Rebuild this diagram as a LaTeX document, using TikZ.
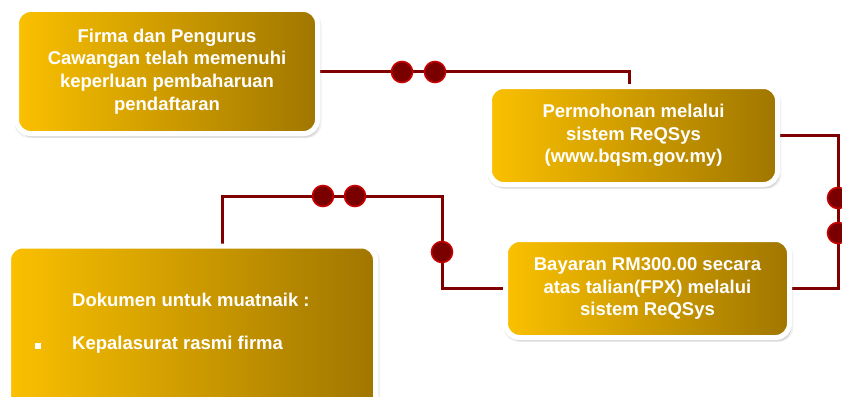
\documentclass[tikz,border=0pt]{standalone}
\usepackage{fontspec}
\setmainfont{Liberation Sans}
\usetikzlibrary{shadows,backgrounds}
\definecolor{goldL}{RGB}{250,192,0}
\definecolor{goldR}{RGB}{160,118,0}
\definecolor{lineRed}{RGB}{128,0,0}
\definecolor{dotFill}{RGB}{122,0,0}
\definecolor{dotRim}{RGB}{200,0,0}
\begin{document}
\begin{tikzpicture}[x=1pt,y=-1pt,
  gbox/.style={rounded corners=14pt, draw=white, line width=5pt,
    left color=goldL, right color=goldR,
    drop shadow={opacity=0.12, shadow xshift=1pt, shadow yshift=-3pt, shadow scale=1.02},
    drop shadow={opacity=0.2, shadow xshift=2pt, shadow yshift=-4pt},
    align=center, text=white, font=\bfseries\fontsize{18.5}{22.7}\selectfont,
    inner sep=0pt},
  wtext/.style={text=white, font=\bfseries\fontsize{18.5}{22.7}\selectfont, inner sep=0pt},
  conn/.style={draw=lineRed, line width=3pt},
  dot/.style={circle, fill=dotFill, draw=dotRim, line width=1.6pt, minimum size=21pt, inner sep=0pt}
]
\useasboundingbox (0,0) rectangle (842,396);
\clip (0,0) rectangle (842,396);

\node[gbox, minimum width=301pt, minimum height=124pt] (b1) at (167,71.5)
  {Firma dan Pengurus\\Cawangan telah memenuhi\\keperluan pembaharuan\\pendaftaran};
\node[gbox, minimum width=288pt, minimum height=98pt] (b2) at (633.5,135.5)
  {Permohonan melalui\\sistem ReQSys\\(www.bqsm.gov.my)};
\node[gbox, minimum width=284pt, minimum height=98pt] (b3) at (647.5,288.5)
  {Bayaran RM300.00 secara\\atas talian(FPX) melalui\\sistem ReQSys};
\node[gbox, minimum width=367pt, minimum height=168pt] (b4) at (192,330) {};
\node[wtext, anchor=west] (t4a) at (72,300) {Dokumen untuk muatnaik :};
\node[wtext, anchor=west] (t4b) at (72,345) {Kepalasurat rasmi firma};
\node[fill=white, minimum size=6pt, inner sep=0pt] (bul) at (38,346) {};

\coordinate (r) at (838,210);
\coordinate (k1) at (442,196);

\begin{scope}[on background layer]
  \draw[conn] (b1.east) -| ([xshift=-4.5pt]b2.north);
  \draw[conn] (b2.east) -| (r) |- (b3.east);
  \draw[conn] (b3.west) -| (k1) -| ([xshift=30pt]b4.north);
\end{scope}

\node[dot] (d1) at (402,72) {};
\node[dot] (d2) at (435,72) {};
\node[dot] (d3) at (838,198) {};
\node[dot] (d4) at (838,233) {};
\node[dot] (d5) at (442,252) {};
\node[dot] (d6) at (323,196) {};
\node[dot] (d7) at (355,196) {};
\end{tikzpicture}
\end{document}
